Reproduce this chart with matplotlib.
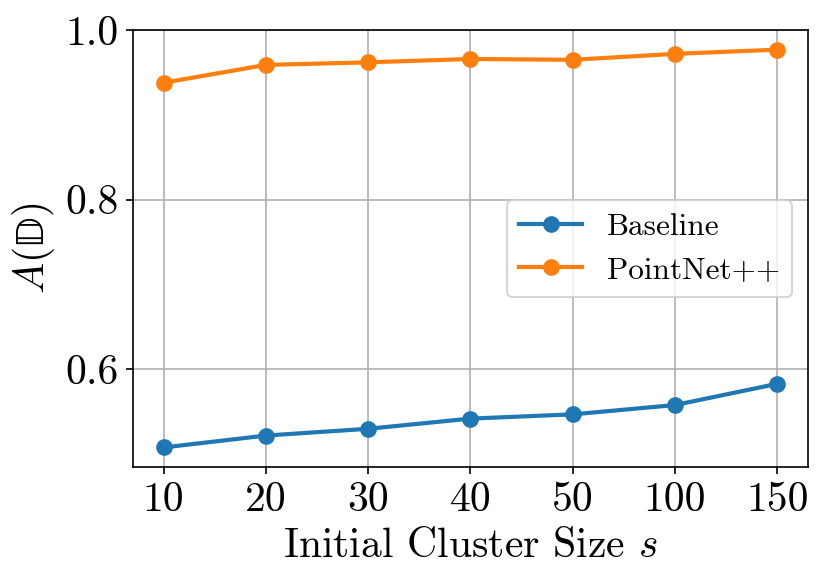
''' Accuracy vs initial cluster size '''

import matplotlib
matplotlib.use('Agg')
import matplotlib.pyplot as plt

CLUSTER_SIZES = ['10', '20', '30', '40', '50', '100', '150']
BASELINE = [0.508, 0.522, 0.530, 0.542, 0.547, 0.558, 0.583]
POINTNET = [0.938, 0.959, 0.962, 0.966, 0.965, 0.972, 0.977]
Y_TICKS = [0.6, 0.8, 1.0]

plt.rcParams['font.family'] = 'serif'
plt.rcParams['font.serif'] = ['cmr10']
plt.rcParams['mathtext.fontset'] = 'cm'
plt.rcParams['axes.formatter.use_mathtext'] = True


def main():
    fig = plt.figure(figsize=(830 / 150, 583 / 150), dpi=150)
    ax = fig.add_axes([0.1602, 0.1984, 0.8133, 0.7506])
    x = list(range(len(CLUSTER_SIZES)))
    ax.plot(x, BASELINE, marker='o', color='#1f77b4', linewidth=2,
            markersize=7, label='Baseline')
    ax.plot(x, POINTNET, marker='o', color='#ff7f0e', linewidth=2,
            markersize=7, label='PointNet++')
    ax.set_xticks(x)
    ax.set_xticklabels(CLUSTER_SIZES)
    ax.set_yticks(Y_TICKS)
    ax.set_yticklabels(['%.1f' % v for v in Y_TICKS])
    ax.tick_params(labelsize=20)
    ax.grid(True)
    ax.set_xlabel('Initial Cluster Size $s$', fontsize=20)
    ax.set_ylabel('$A(\\mathrm{\U0001D53B})$', fontsize=20)
    ax.legend(loc='center right', prop={'size': 15})
    fig.savefig('out.png', dpi=150)


if __name__ == '__main__':
    main()
